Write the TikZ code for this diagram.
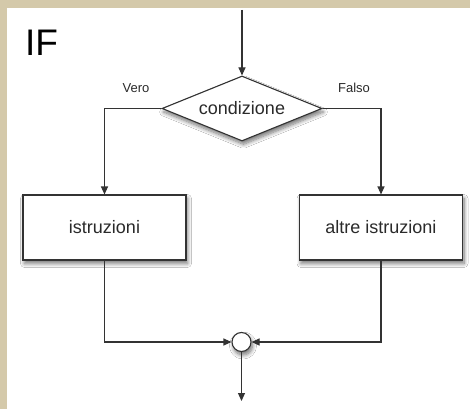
\documentclass[tikz,border=0pt]{standalone}
\usepackage{fontspec}
\setmainfont{Liberation Sans}
\usetikzlibrary{arrows.meta,shapes.geometric,shadows.blur}
\definecolor{frame}{HTML}{D4C9AA}
\definecolor{ink}{HTML}{333333}
\definecolor{words}{HTML}{2A2A2A}
\tikzset{
  flow/.style={draw=ink, line width=1.1pt, -{Triangle[length=8pt,width=7pt]}},
  softshadow/.style={blur shadow={shadow xshift=1.5pt, shadow yshift=-3.5pt, shadow blur steps=8, shadow blur radius=4pt, shadow opacity=55}},
  stepbox/.style={draw=ink, line width=1.1pt, fill=white, rectangle, text=words,
    minimum width=163pt, minimum height=65pt, inner sep=0pt, font=\fontsize{18}{20}\selectfont, softshadow},
  test/.style={draw=ink, line width=1.1pt, fill=white, diamond, aspect=2.46, text=words,
    minimum width=160pt, minimum height=65pt, inner sep=0pt, font=\fontsize{18}{20}\selectfont, softshadow},
  mergedot/.style={draw=ink, line width=1.1pt, fill=white, circle, minimum size=19pt, inner sep=0pt, softshadow},
  tag/.style={font=\fontsize{13}{15}\selectfont, inner sep=0pt, text=words},
}
\begin{document}
\begin{tikzpicture}[x=1pt,y=-1pt]
  % page and frame
  \fill[frame] (0,0) rectangle (470,409);
  \fill[white] (7,8) rectangle (470,409);
  \useasboundingbox (0,0) rectangle (470,409);

  \node[anchor=west, font=\fontsize{37}{40}\selectfont, inner sep=0pt] (title) at (25,43) {IF};

  \coordinate (start) at (242,10);
  \node[test] (cond) at (242,108.5) {condizione};
  \node[stepbox] (yes) at (104.5,227.5) {istruzioni};
  \node[stepbox] (no) at (381,227.5) {altre istruzioni};
  \node[mergedot] (merge) at (241.5,342) {};
  \coordinate (stop) at (241.5,401);

  \node[tag] (vero) at (136,88) {Vero};
  \node[tag] (falso) at (354,88) {Falso};

  \draw[flow] (start) -- (cond.north);
  \draw[flow] (cond.west) -| (yes.north);
  \draw[flow] (cond.east) -| (no.north);
  \draw[flow] (yes.south) |- (merge.west);
  \draw[flow] (no.south) |- (merge.east);
  \draw[flow] (merge.south) -- (stop);
\end{tikzpicture}
\end{document}
